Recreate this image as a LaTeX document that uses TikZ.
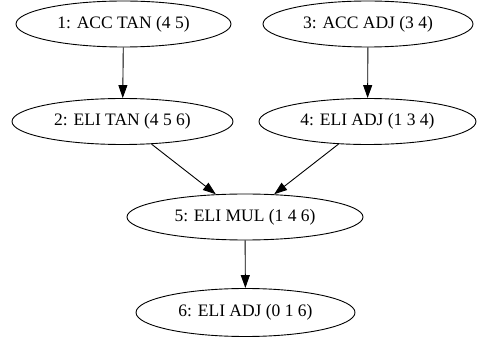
\documentclass[tikz,border=0pt]{standalone}
\usepackage{fontspec}
\setmainfont{Liberation Serif}
\usetikzlibrary{arrows.meta,shapes.geometric}
\begin{document}
\begin{tikzpicture}[x=1pt,y=-1pt,
  gnode/.style={draw,ellipse,inner sep=0pt,line width=0.9pt,minimum height=46pt,font=\fontsize{17.5}{20}\selectfont},
  edge/.style={draw,line width=0.9pt,-{Triangle[length=13pt,width=9pt]}}]
\useasboundingbox (0,0) rectangle (477,339);
\node[gnode,minimum width=215pt] (n1) at (123.5,24) {1: ACC TAN (4 5)};
\node[gnode,minimum width=210pt] (n3) at (368,24) {3: ACC ADJ (3 4)};
\node[gnode,minimum width=221pt] (n2) at (122.5,121.5) {2: ELI TAN (4 5 6)};
\node[gnode,minimum width=217pt] (n4) at (367.5,121.5) {4: ELI ADJ (1 3 4)};
\node[gnode,minimum width=236pt] (n5) at (245,217) {5: ELI MUL (1 4 6)};
\node[gnode,minimum width=219pt,minimum height=48pt] (n6) at (245.5,312.5) {6: ELI ADJ (0 1 6)};
\draw[edge] (n1) -- (n2);
\draw[edge] (n3) -- (n4);
\draw[edge] (n2) -- (n5);
\draw[edge] (n4) -- (n5);
\draw[edge] (n5) -- (n6);
\end{tikzpicture}
\end{document}
